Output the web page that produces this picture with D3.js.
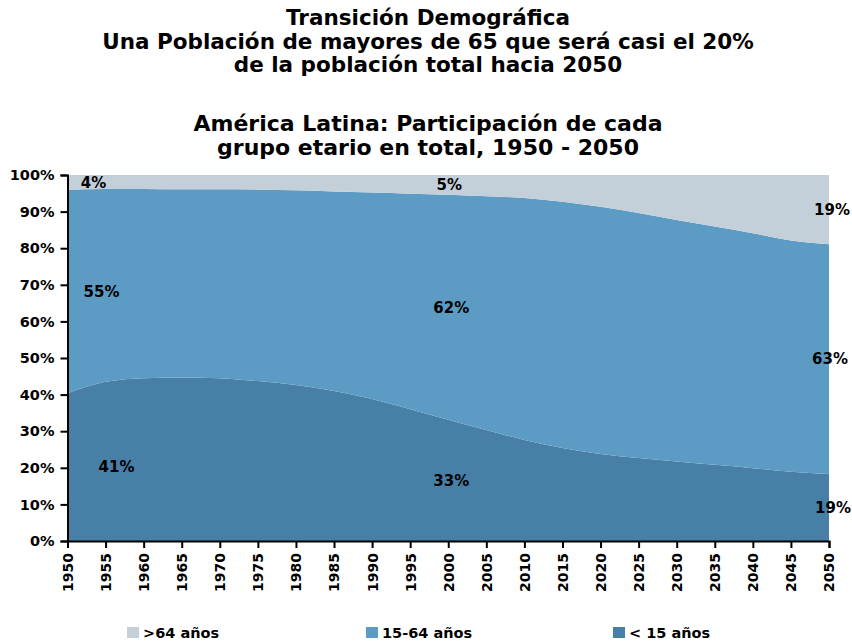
<!DOCTYPE html>
<head>
    <meta charset="utf-8">
    <script src='https://d3js.org/d3.v7.min.js'> </script>
    <style>
        body { margin: 0; background: #fff; }
        text { font-family: "DejaVu Sans", sans-serif; font-weight: bold; fill: #000; }
    </style>
</head>

<body>
    <svg width="852" height="643"></svg>

    <script>
        // data (percent of total population)
        const years = [1950, 1955, 1960, 1965, 1970, 1975, 1980, 1985, 1990, 1995, 2000,
            2005, 2010, 2015, 2020, 2025, 2030, 2035, 2040, 2045, 2050]
        const menores15 = [40.4, 43.5, 44.5, 44.7, 44.5, 43.7, 42.6, 41.0, 38.8, 36.0, 33.1,
            30.3, 27.6, 25.4, 23.8, 22.7, 21.7, 20.8, 19.9, 18.9, 18.3]
        const de15a64 = [55.6, 52.7, 51.7, 51.4, 51.6, 52.3, 53.2, 54.5, 56.4, 58.9, 61.5,
            63.9, 66.1, 67.3, 67.5, 66.9, 66.0, 65.1, 64.2, 63.2, 62.8]
        const mayores64 = [4.0, 3.8, 3.8, 3.9, 3.9, 4.0, 4.2, 4.5, 4.8, 5.1, 5.4,
            5.8, 6.3, 7.3, 8.7, 10.4, 12.3, 14.1, 15.9, 17.9, 18.9]

        const keys = ['menores15', 'de15a64', 'mayores64']
        const legendNames = ['>64 años', '15-64 años', '< 15 años']
        const yTicks = [0, 10, 20, 30, 40, 50, 60, 70, 80, 90, 100]

        // data labels: year, group, text
        const labelYears = [1950, 1950, 1950, 2000, 2000, 2000, 2050, 2050, 2050]
        const labelKeys = ['mayores64', 'de15a64', 'menores15', 'mayores64', 'de15a64', 'menores15', 'mayores64', 'de15a64', 'menores15']
        const labelTexts = ['4%', '55%', '41%', '5%', '62%', '33%', '19%', '63%', '19%']
        const labelDx = [26, 34, 49, 1, 3, 3, 3, 1, 4]

        const colors = { menores15: '#487fa7', de15a64: '#5c9bc4', mayores64: '#c3d0da' }

        const titles = ['Transición Demográfica',
            'Una Población de mayores de 65 que será casi el 20%',
            'de la población total hacia 2050']
        const subtitles = ['América Latina: Participación de cada',
            'grupo etario en total, 1950 - 2050']

        let svg = d3.select("svg")

        const table = years.map((y, i) => ({
            year: y, menores15: menores15[i], de15a64: de15a64[i], mayores64: mayores64[i]
        }))

        const x = d3.scaleLinear().domain([1950, 2050]).range([67.5, 829])
        const y = d3.scaleLinear().domain([0, 100]).range([541, 175])

        const series = d3.stack().keys(keys)(table)

        const area = d3.area()
            .x(d => x(d.data.year))
            .y0(d => y(d[0]))
            .y1(d => y(d[1]))
            .curve(d3.curveMonotoneX)

        svg.selectAll('path.layer')
            .data(series)
            .enter()
            .append('path')
            .attr('class', 'layer')
            .attr('fill', d => colors[d.key])
            .attr('d', area)

        // titles
        svg.selectAll('text.title')
            .data(titles)
            .enter()
            .append('text')
            .attr('class', 'title')
            .attr('x', 428)
            .attr('y', (d, i) => 25 + i * 23.5)
            .attr('text-anchor', 'middle')
            .attr('font-size', 21.5)
            .text(d => d)

        svg.selectAll('text.subtitle')
            .data(subtitles)
            .enter()
            .append('text')
            .attr('class', 'subtitle')
            .attr('x', 428)
            .attr('y', (d, i) => 131 + i * 24)
            .attr('text-anchor', 'middle')
            .attr('font-size', 22)
            .text(d => d)

        // axes
        const yAxis = svg.append('g')
            .attr('transform', `translate(${x(1950)},0)`)
            .call(d3.axisLeft(y).tickValues(yTicks).tickFormat(d => d + '%').tickSize(7).tickPadding(6))
        yAxis.selectAll('text').attr('font-size', 14.5).style('font-family', 'DejaVu Sans').style('font-weight', 'bold')

        const xAxis = svg.append('g')
            .attr('transform', `translate(0,${y(0)})`)
            .call(d3.axisBottom(x).tickValues(years).tickFormat(d3.format('d')).tickSize(7))
        xAxis.selectAll('text')
            .attr('font-size', 14)
            .style('font-family', 'DejaVu Sans').style('font-weight', 'bold')
            .attr('transform', 'rotate(-90)')
            .attr('text-anchor', 'end')
            .attr('x', -12)
            .attr('y', 0)
            .attr('dy', '0.35em')

        svg.selectAll('.domain').attr('stroke', '#000').attr('stroke-width', 2)
        svg.selectAll('.tick line').attr('stroke', '#000').attr('stroke-width', 2)

        // data labels
        const lookup = {}
        series.forEach(s => { lookup[s.key] = s })
        svg.selectAll('text.dlabel')
            .data(labelTexts)
            .enter()
            .append('text')
            .attr('class', 'dlabel')
            .attr('x', (d, i) => x(labelYears[i]) + labelDx[i])
            .attr('y', (d, i) => {
                const s = lookup[labelKeys[i]]
                const pt = s[years.indexOf(labelYears[i])]
                return y((pt[0] + pt[1]) / 2)
            })
            .attr('dy', '0.35em')
            .attr('text-anchor', 'middle')
            .attr('font-size', 15)
            .text(d => d)

        // legend
        const legendX = [127, 366, 613]
        const legendColors = [colors.mayores64, colors.de15a64, colors.menores15]
        const lg = svg.selectAll('g.legend')
            .data(legendNames)
            .enter()
            .append('g')
            .attr('class', 'legend')
            .attr('transform', (d, i) => `translate(${legendX[i]},627)`)
        lg.append('rect')
            .attr('width', 12)
            .attr('height', 11)
            .attr('fill', (d, i) => legendColors[i])
        lg.append('text')
            .attr('x', 16)
            .attr('y', 10.5)
            .attr('font-size', 14.5)
            .text(d => d)
    </script>
</body>
